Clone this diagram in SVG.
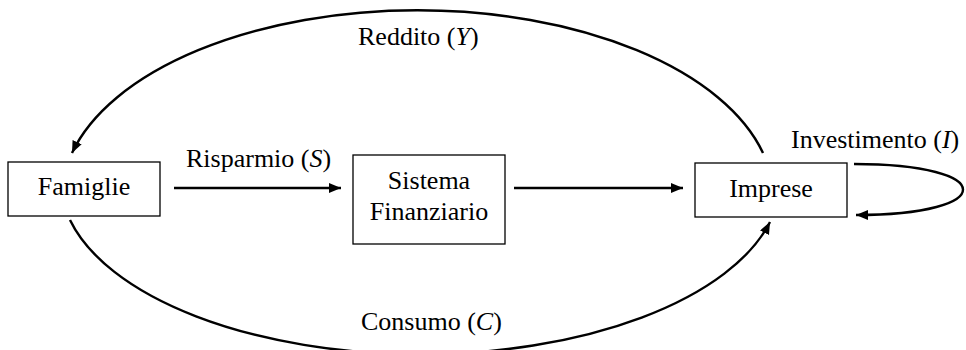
<svg xmlns="http://www.w3.org/2000/svg" width="966" height="350" viewBox="0 0 966 350">
<style>
  text { font-family: "Liberation Serif", "Times New Roman", serif; font-size: 26px; fill: #000; }
  .box { fill: #fff; stroke: #000; stroke-width: 1.3; }
  .conn { fill: none; stroke: #000; stroke-width: 2.4; }
  .it { font-style: italic; }
</style>
<defs>
  <marker id="arr" markerUnits="userSpaceOnUse" markerWidth="14" markerHeight="12" refX="12" refY="5" orient="auto">
    <path d="M0,0 L12,5 L0,10 z" fill="#000"/>
  </marker>
</defs>
<g id="connectors">
  <line class="conn" x1="174" y1="188" x2="341" y2="188" marker-end="url(#arr)"/>
  <line class="conn" x1="514" y1="188" x2="683" y2="188" marker-end="url(#arr)"/>
  <path class="conn" d="M763,153 A356,188 0 0 0 72,153" marker-end="url(#arr)"/>
  <path class="conn" d="M70,220 A360,174 0 0 0 770,222" marker-end="url(#arr)"/>
  <path class="conn" d="M854,164 C999,164 999,215 856,215" marker-end="url(#arr)"/>
</g>
<g id="famiglie">
  <rect class="box" x="8" y="162" width="152" height="54"/>
  <text x="84" y="195" text-anchor="middle">Famiglie</text>
</g>
<g id="sistema">
  <rect class="box" x="353" y="155" width="152" height="89"/>
  <text x="429" y="189" text-anchor="middle">Sistema</text>
  <text x="429" y="220" text-anchor="middle">Finanziario</text>
</g>
<g id="imprese">
  <rect class="box" x="695" y="163" width="152" height="54"/>
  <text x="771" y="197" text-anchor="middle">Imprese</text>
</g>
<g id="labels">
  <text x="358" y="45">Reddito (<tspan class="it">Y</tspan>)</text>
  <text x="186" y="167">Risparmio (<tspan class="it">S</tspan>)</text>
  <text x="791" y="148">Investimento (<tspan class="it">I</tspan>)</text>
  <text x="361" y="330">Consumo (<tspan class="it">C</tspan>)</text>
</g>
</svg>
